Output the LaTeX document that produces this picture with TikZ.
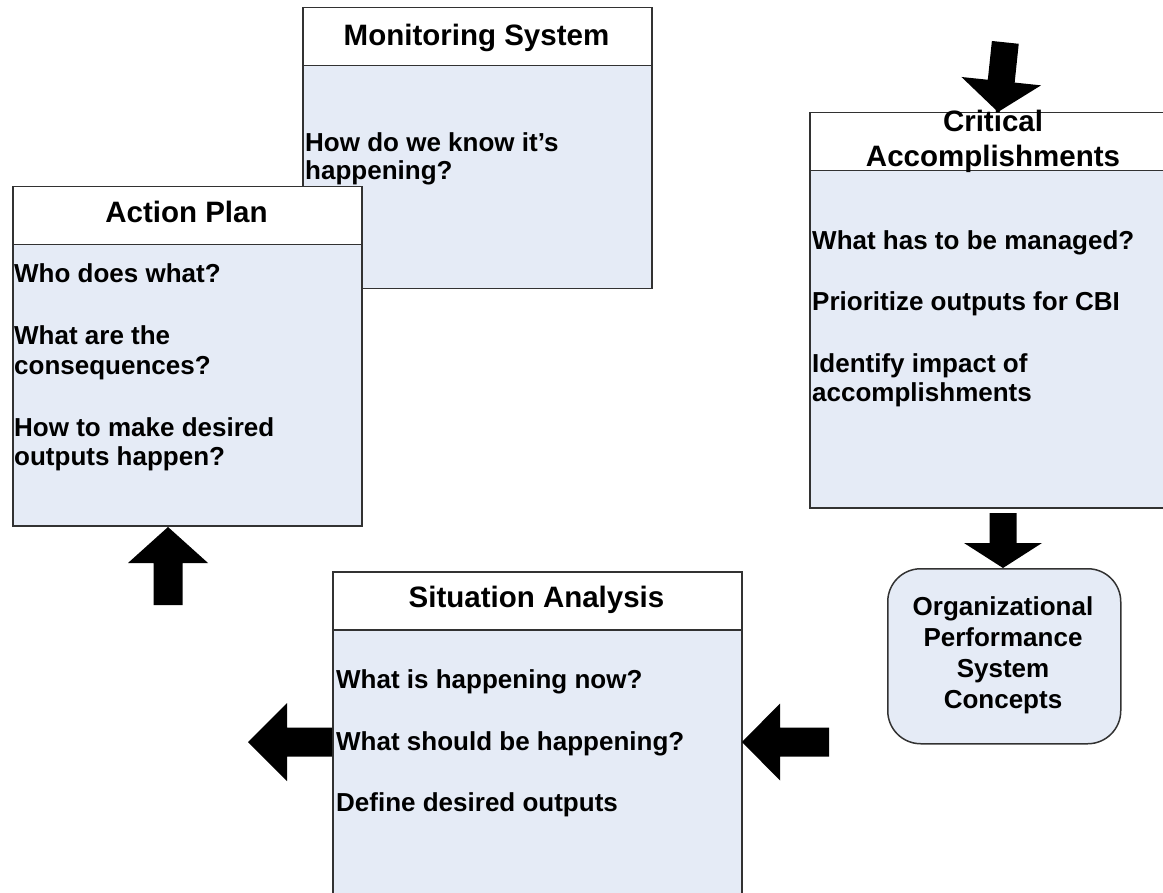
\documentclass[tikz,border=0pt]{standalone}
\usepackage{fontspec}
\setmainfont{Liberation Sans}
\definecolor{panelblue}{RGB}{229,235,246}
\definecolor{edgegray}{RGB}{50,50,50}
\tikzset{
  x=1pt, y=-1pt,
  framebox/.style={draw=edgegray, line width=1.5pt, rectangle, inner sep=0pt, anchor=north west},
  headbox/.style={framebox, fill=white},
  bodybox/.style={framebox, fill=panelblue},
  titletext/.style={font=\fontsize{29.5}{34}\selectfont\bfseries, inner sep=0pt, anchor=base},
  bodytext/.style={font=\fontsize{26}{30}\selectfont\bfseries, inner sep=0pt, anchor=base west},
  centertext/.style={bodytext, anchor=base},
  pics/blockarrow/.style n args={4}{code={
    % tip at the origin, pointing along +x; #1 shaft length, #2 shaft half width,
    % #3 head length, #4 head half width
    \fill[black] (0,0) -- (-#3,#4) -- (-#3,#2) -- (-#3-#1,#2) -- (-#3-#1,-#2)
      -- (-#3,-#2) -- (-#3,-#4) -- cycle;
  }}
}
\begin{document}
\begin{tikzpicture}
\useasboundingbox (0,0) rectangle (1163,893);
\clip (0,0) rectangle (1163,893);

% Monitoring System
\node[headbox, minimum width=349pt, minimum height=58pt] (msHead) at (302,7) {};
\node[bodybox, minimum width=349pt, minimum height=223pt] (msBody) at (302,65) {};
\node[titletext] (msTitle) at (476.5,46) {Monitoring System};
\node[bodytext] (ms1) at (305,152) {How do we know it’s};
\node[bodytext] (ms2) at (305,180) {happening?};

% Action Plan
\node[headbox, minimum width=349pt, minimum height=58pt] (apHead) at (12,186) {};
\node[bodybox, minimum width=349pt, minimum height=281pt] (apBody) at (12,244) {};
\node[titletext] (apTitle) at (186.5,223) {Action Plan};
\node[bodytext] (ap1) at (14,283) {Who does what?};
\node[bodytext] (ap2) at (14,345) {What are the};
\node[bodytext] (ap3) at (14,375) {consequences?};
\node[bodytext] (ap4) at (14,437) {How to make desired};
\node[bodytext] (ap5) at (14,466) {outputs happen?};

% Critical Accomplishments
\node[headbox, minimum width=371pt, minimum height=58pt] (caHead) at (809,112) {};
\node[bodybox, minimum width=371pt, minimum height=337pt] (caBody) at (809,170) {};
\node[titletext] (caTitleA) at (993,132) {Critical};
\node[titletext] (caTitleB) at (993,167) {Accomplishments};
\node[bodytext] (ca1) at (812,250) {What has to be managed?};
\node[bodytext] (ca2) at (812,311) {Prioritize outputs for CBI};
\node[bodytext] (ca3) at (812,373) {Identify impact of};
\node[bodytext] (ca4) at (812,402) {accomplishments};

% Situation Analysis
\node[headbox, minimum width=409pt, minimum height=58pt] (saHead) at (332,571) {};
\node[bodybox, minimum width=409pt, minimum height=290pt] (saBody) at (332,629) {};
\node[titletext] (saTitle) at (536.5,607) {Situation Analysis};
\node[bodytext] (sa1) at (336,688) {What is happening now?};
\node[bodytext] (sa2) at (336,750) {What should be happening?};
\node[bodytext] (sa3) at (336,811) {Define desired outputs};

% Organizational Performance System Concepts
\node[bodybox, rounded corners=33pt, minimum width=233pt, minimum height=175pt] (ops) at (887,568) {};
\node[centertext] (ops1) at (1003,615) {Organizational};
\node[centertext] (ops2) at (1003,646) {Performance};
\node[centertext] (ops3) at (1003,677) {System};
\node[centertext] (ops4) at (1003,708) {Concepts};

% block arrows
\pic[rotate=-96] at (998,112) {blockarrow={39}{13.5}{31}{40}};
\pic[rotate=-90] at (1003,568) {blockarrow={30}{13.5}{25}{39}};
\pic[rotate=90] at (168,527) {blockarrow={42}{14.5}{36}{40}};
\pic[rotate=180] at (742,742) {blockarrow={49}{14.5}{38}{38.5}};
\pic[rotate=180] at (248,742) {blockarrow={45}{14.5}{39}{39}};
\end{tikzpicture}
\end{document}
